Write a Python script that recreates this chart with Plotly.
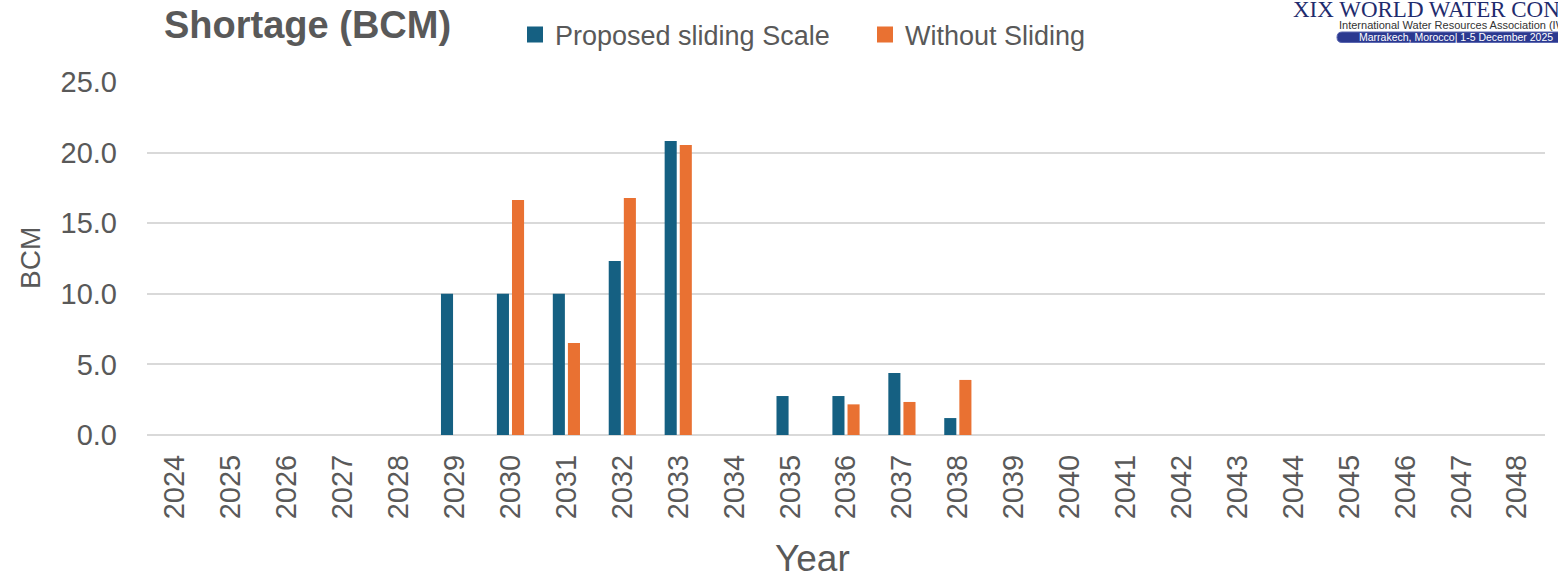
import plotly.graph_objects as go

years = [str(y) for y in range(2024, 2049)]
proposed_sliding = [0, 0, 0, 0, 0, 10.0, 10.0, 10.0, 12.33, 20.83, 0, 2.76, 2.76, 4.39, 1.20,
                    0, 0, 0, 0, 0, 0, 0, 0, 0, 0]
without_sliding = [0, 0, 0, 0, 0, 0, 16.65, 6.52, 16.79, 20.54, 0, 0, 2.17, 2.34, 3.90,
                   0, 0, 0, 0, 0, 0, 0, 0, 0, 0]
y_ticks = [0, 5, 10, 15, 20, 25]
series_names = ["Proposed sliding Scale", "Without Sliding"]

BLUE = "#156082"
ORANGE = "#E97132"
TXT = "#595959"
GRID = "#D9D9D9"
SANS = "Liberation Sans, Arial, sans-serif"

W, H = 1558, 578
L, R, T, B = 147, 13, 82, 143
PW, PH = W - L - R, H - T - B


def px(x):
    return (x - L) / PW


def py(y):
    return (H - B - y) / PH


fig = go.Figure()
for vals, name, col in [(proposed_sliding, series_names[0], BLUE),
                        (without_sliding, series_names[1], ORANGE)]:
    fig.add_trace(go.Bar(x=years, y=vals, name=name, showlegend=False,
                         marker=dict(color=col, line=dict(width=0))))
# legend entries with square swatches
for name, col in [(series_names[0], BLUE), (series_names[1], ORANGE)]:
    fig.add_trace(go.Scatter(x=[None], y=[None], mode="markers", name=name,
                             marker=dict(symbol="square", size=17, color=col)))

fig.update_layout(
    width=W, height=H,
    margin=dict(l=L, r=R, t=T, b=B, autoexpand=False),
    plot_bgcolor="white", paper_bgcolor="white",
    barmode="group", bargap=0.46, bargroupgap=0.2,
    font=dict(family=SANS, color=TXT),
    showlegend=True,
    legend=dict(orientation="h", x=px(515), y=py(35), xanchor="left", yanchor="middle",
                font=dict(size=27, color=TXT, family=SANS),
                bgcolor="rgba(0,0,0,0)", entrywidth=305, entrywidthmode="pixels",
                itemwidth=30, itemsizing="trace"),
    xaxis=dict(type="category", categoryorder="array", categoryarray=years,
               range=[-0.5, len(years) - 0.5], tickangle=-90, ticks="",
               tickfont=dict(size=29, color=TXT), showgrid=False, showline=False,
               ticklabelstandoff=13, automargin=False),
    yaxis=dict(range=[0, 25], tickvals=y_ticks, tickformat=".1f", ticks="",
               tickfont=dict(size=29, color=TXT), showgrid=True, gridcolor=GRID,
               gridwidth=1.5, zeroline=True, zerolinecolor=GRID, zerolinewidth=2,
               showline=False, ticklabelstandoff=29, automargin=False),
)

annotations = [
    dict(text="<b>Shortage (BCM)</b>", x=px(162), y=py(25), xanchor="left", yanchor="middle",
         font=dict(size=38, color=TXT, family=SANS)),
    dict(text="BCM", x=px(30), y=py(258), xanchor="center", yanchor="middle", textangle=-90,
         font=dict(size=28, color=TXT)),
    dict(text="Year", x=px(812), y=py(558), xanchor="center", yanchor="middle",
         font=dict(size=37, color=TXT)),
    dict(text="XIX WORLD WATER CONGRESS", x=px(1291), y=py(10), xanchor="left", yanchor="middle",
         font=dict(size=23, color="#1F2C6E", family="Liberation Serif, Times New Roman, serif")),
    dict(text="International Water Resources Association (IWRA)", x=px(1337), y=py(25),
         xanchor="left", yanchor="middle",
         font=dict(size=11, color="#333333", family=SANS)),
    dict(text="Marrakech, Morocco| 1-5 December 2025", x=px(1357), y=py(37),
         xanchor="left", yanchor="middle",
         font=dict(size=10.5, color="white", family=SANS)),
]
for a in annotations:
    a.update(xref="paper", yref="paper", showarrow=False)
fig.update_layout(annotations=annotations)

# rounded pill behind the congress dates
x0, x1, y0, y1, r = 1337, 1575, 32, 42.5, 5
fig.add_shape(type="path", xref="paper", yref="paper",
              path=(f"M {px(x0 + r)},{py(y0)} L {px(x1)},{py(y0)} L {px(x1)},{py(y1)} "
                    f"L {px(x0 + r)},{py(y1)} Q {px(x0)},{py(y1)} {px(x0)},{py((y0 + y1) / 2)} "
                    f"Q {px(x0)},{py(y0)} {px(x0 + r)},{py(y0)} Z"),
              fillcolor="#2B3990", line=dict(color="#5A66B0", width=1), layer="below")

fig.write_html("out.html")
